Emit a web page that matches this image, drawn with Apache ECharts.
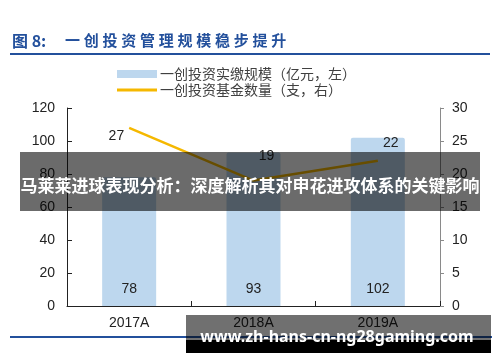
<!DOCTYPE html>
<html><head><meta charset="utf-8">
<script src="https://cdn.jsdelivr.net/npm/echarts@6/dist/echarts.min.js"></script>
<style>html,body{margin:0;padding:0;background:#fff}#c{width:500px;height:362px}</style>
</head><body><div id="c"></div>
<script>
var categories = ['2017A', '2018A', '2019A'];
var scaleValues = [78, 93, 102];      // 一创投资实缴规模（亿元，左）
var fundCounts = [27, 19, 22];        // 一创投资基金数量（支，右）
var leftTicks = [0, 120, 20];
var rightTicks = [0, 30, 5];
var barName = '一创投资实缴规模（亿元，左）';
var lineName = '一创投资基金数量（支，右）';
var titleHead = '图 8:';
var titleBody = '一创投资管理规模稳步提升';
var bannerText = '马莱莱进球表现分析：深度解析其对申花进攻体系的关键影响';
var watermarkText = 'www.zh-hans-cn-ng28gaming.com';

var lineLabelStyle = [
  {position: 'left', distance: 5, offset: [0, 8]},
  {position: 'top', distance: 5, offset: [13, -12]},
  {position: 'top', distance: 5, offset: [13, -6]}
];

var chart = echarts.init(document.getElementById('c'), null, {renderer: 'canvas'});
var titleColor = '#23509c';
var graphics = [
  {type: 'text', left: 12, top: 33, style: {text: titleHead, fill: titleColor, font: 'bold 16px "Noto Sans CJK SC", sans-serif'}},
  {type: 'rect', shape: {x: 10, y: 53, width: 480, height: 2}, style: {fill: titleColor}},
  {type: 'rect', shape: {x: 10, y: 336, width: 482, height: 2}, style: {fill: titleColor}},
  {type: 'rect', z: 100, shape: {x: 20, y: 152, width: 460, height: 59}, style: {fill: 'rgba(0,0,0,0.58)'}},
  {type: 'text', z: 101, x: 250, y: 186, style: {text: bannerText, fill: '#fff', align: 'center', verticalAlign: 'middle', font: 'bold 17px "Noto Sans CJK SC", sans-serif'}},
  {type: 'rect', z: 100, shape: {x: 186, y: 315, width: 305, height: 25}, style: {fill: 'rgba(0,0,0,0.56)'}},
  {type: 'rect', z: 100, shape: {x: 186, y: 340, width: 305, height: 13}, style: {fill: '#000'}},
  {type: 'text', z: 101, x: 337, y: 337, style: {text: watermarkText, fill: '#fff', align: 'center', verticalAlign: 'middle', font: 'bold 16px "Noto Sans", sans-serif'}}
];
titleBody.split('').forEach(function (ch, i) {
  graphics.push({type: 'text', left: 65 + i * 18.75, top: 33, style: {text: ch, fill: titleColor, font: 'bold 15px "Noto Sans CJK SC", sans-serif'}});
});

var axisFont = {fontFamily: '"Liberation Sans", Arial, sans-serif', fontSize: 14, color: '#222'};

chart.setOption({
  animation: false,
  backgroundColor: '#fff',
  grid: {left: 67, right: 60, top: 108, bottom: 56},
  legend: {
    orient: 'vertical', left: 117, top: 66, padding: 0, itemWidth: 40, itemHeight: 8, itemGap: 0,
    textStyle: {fontFamily: '"Noto Sans CJK SC", sans-serif', fontSize: 14, lineHeight: 16, color: '#404040', padding: [0, 0, 0, -2]},
    data: [{name: barName, icon: 'rect'}, {name: lineName, icon: 'path://M0,0L40,0L40,3L0,3Z', itemStyle: {color: '#f5b800'}}]
  },
  xAxis: {
    type: 'category', data: categories,
    axisLine: {lineStyle: {color: '#222', width: 1}},
    axisTick: {show: true, inside: true, alignWithLabel: false, length: 5, lineStyle: {color: '#222'}},
    axisLabel: Object.assign({margin: 10}, axisFont),
    splitLine: {show: false}
  },
  yAxis: [
    {type: 'value', min: leftTicks[0], max: leftTicks[1], interval: leftTicks[2],
      axisLine: {show: true, lineStyle: {color: '#222'}},
      axisTick: {show: true, inside: true, length: 5, lineStyle: {color: '#222'}},
      axisLabel: Object.assign({margin: 12}, axisFont),
      splitLine: {show: false}},
    {type: 'value', min: rightTicks[0], max: rightTicks[1], interval: rightTicks[2],
      axisLine: {show: true, lineStyle: {color: '#8a8a8a'}},
      axisTick: {show: true, inside: false, length: 4, lineStyle: {color: '#8a8a8a'}},
      axisLabel: Object.assign({margin: 12}, axisFont),
      splitLine: {show: false}}
  ],
  series: [
    {name: barName, type: 'bar', yAxisIndex: 0, data: scaleValues, barWidth: 54,
      itemStyle: {color: '#bdd7ee', borderRadius: [2, 2, 0, 0]},
      label: {show: true, position: 'insideBottom', distance: 10, fontFamily: '"Liberation Sans", Arial, sans-serif', fontSize: 14, color: '#222'}},
    {name: lineName, type: 'line', yAxisIndex: 1, symbol: 'circle', symbolSize: 0, showSymbol: true,
      lineStyle: {color: '#f5b800', width: 2.5}, itemStyle: {color: '#f5b800'},
      data: fundCounts.map(function (v, i) {
        var s = lineLabelStyle[i];
        return {value: v, label: {show: true, position: s.position, distance: s.distance, offset: s.offset,
          fontFamily: '"Liberation Sans", Arial, sans-serif', fontSize: 14, color: '#222'}};
      })}
  ],
  graphic: graphics
});
</script></body></html>
